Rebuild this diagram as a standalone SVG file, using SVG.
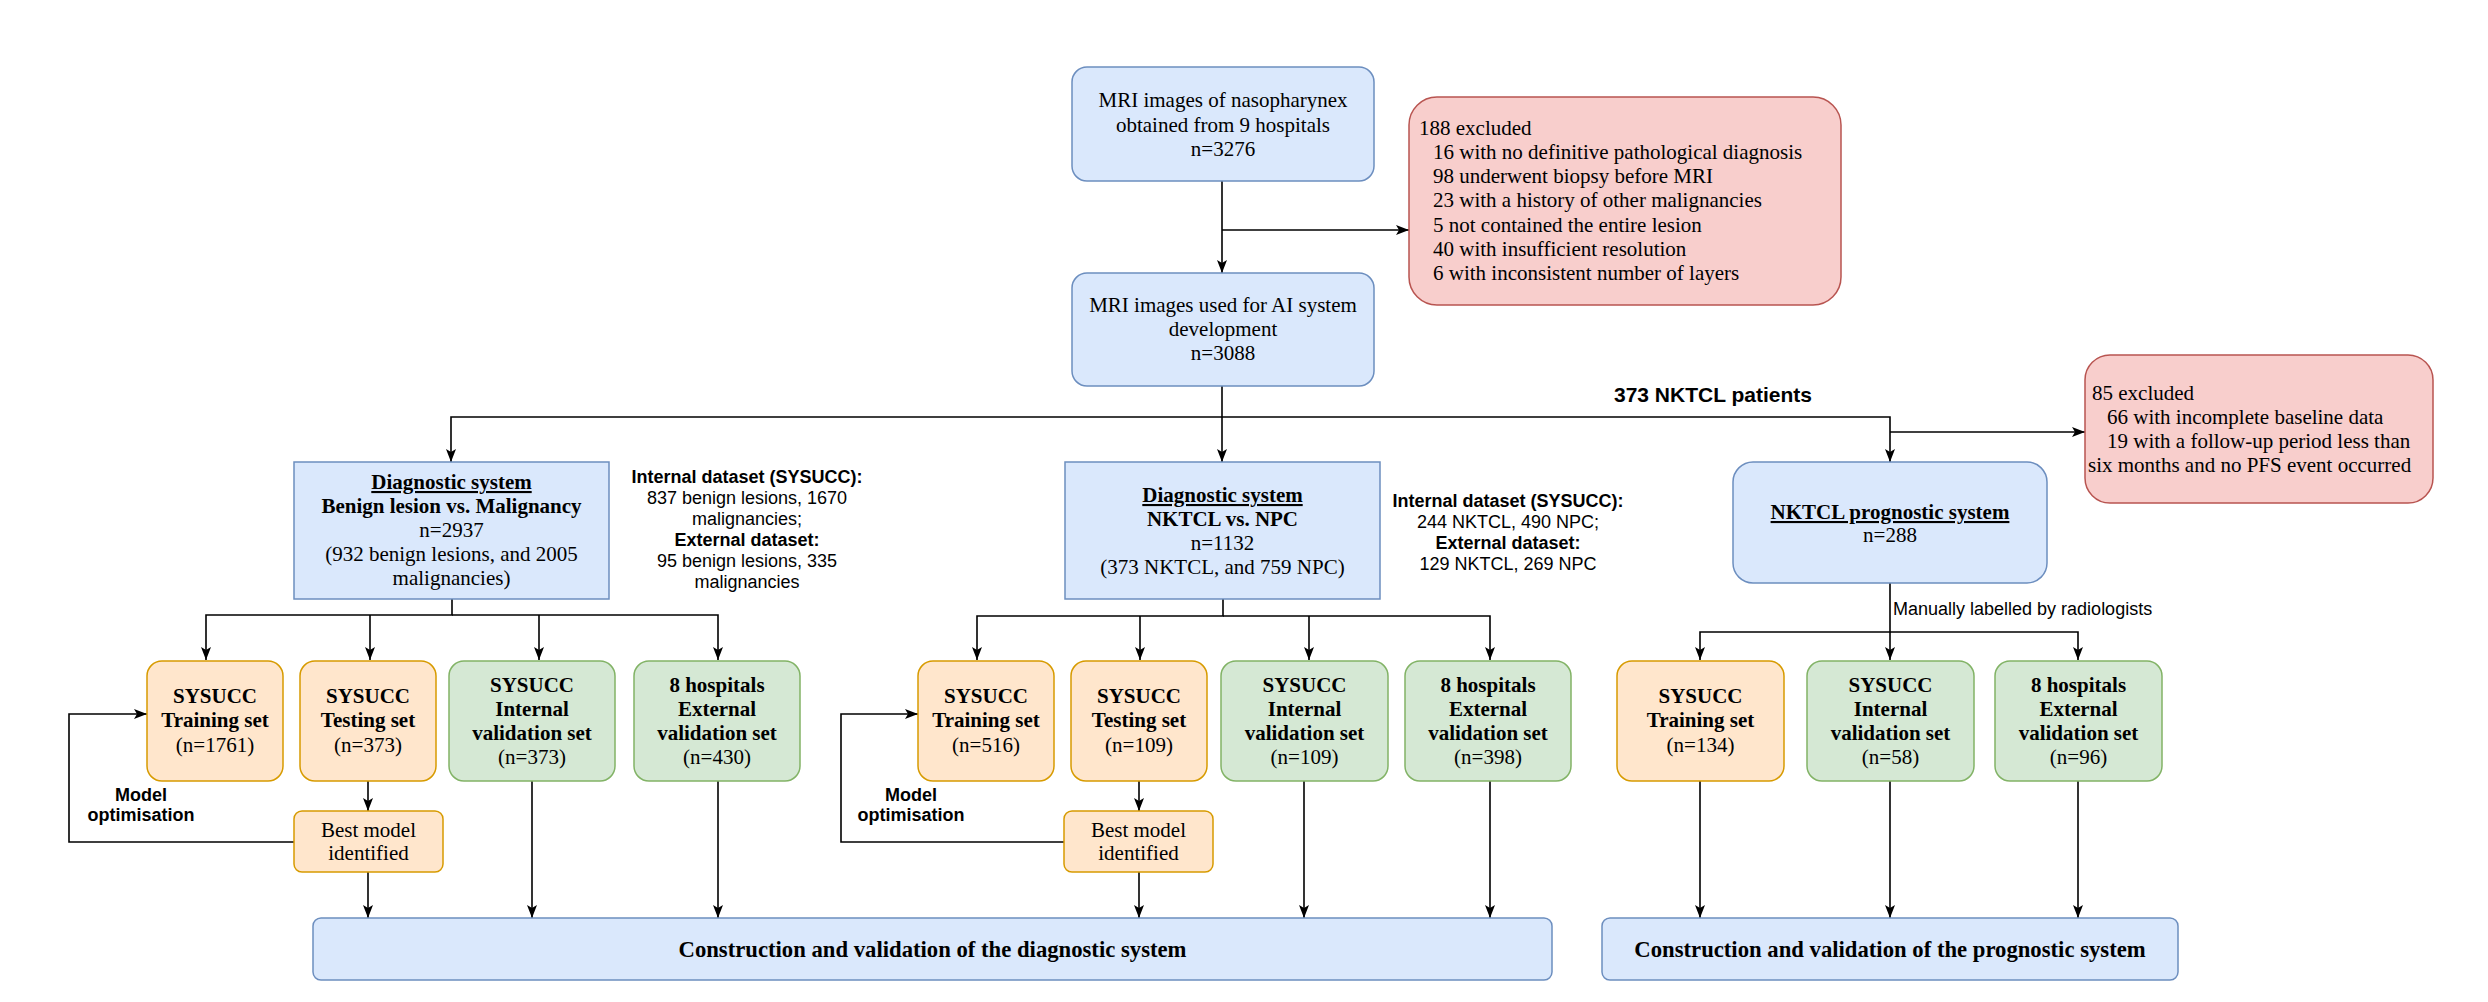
<svg xmlns="http://www.w3.org/2000/svg" width="2488" height="1002" viewBox="0 0 2488 1002">
<defs>
<style>
.blue{fill:#dae8fc;stroke:#6c8ebf;stroke-width:1.5}
.red{fill:#f8cecc;stroke:#b85450;stroke-width:1.5}
.orange{fill:#ffe6cc;stroke:#d79b00;stroke-width:1.5}
.green{fill:#d5e8d4;stroke:#82b366;stroke-width:1.5}
text{font-family:"Liberation Serif","Times New Roman",serif;font-size:21px;fill:#000}
.c{text-anchor:middle}
.b{font-weight:bold}
.u{text-decoration:underline}
.big{font-size:22.7px}
.s{font-family:"Liberation Sans",Arial,sans-serif;font-size:18px}
.conn path{fill:none;stroke:#000;stroke-width:1.6}
</style>
<marker id="arr" markerUnits="userSpaceOnUse" markerWidth="14" markerHeight="12" refX="13" refY="5" orient="auto">
<path d="M0,0 L13,5 L0,10 L3,5 Z" fill="#000"/>
</marker>
</defs>
<rect width="2488" height="1002" fill="#fff"/>

<g class="conn">
<path d="M1222,181 V273" marker-end="url(#arr)"/>
<path d="M1222,230 H1409" marker-end="url(#arr)"/>
<path d="M1222,386 V462" marker-end="url(#arr)"/>
<path d="M1222,417 H451 V462" marker-end="url(#arr)"/>
<path d="M1222,417 H1890 V462" marker-end="url(#arr)"/>
<path d="M1890,432 H2085" marker-end="url(#arr)"/>
<path d="M452,599 V615 H206 V660" marker-end="url(#arr)"/>
<path d="M370,615 V660" marker-end="url(#arr)"/>
<path d="M539,615 V660" marker-end="url(#arr)"/>
<path d="M452,615 H718 V660" marker-end="url(#arr)"/>
<path d="M1223,599 V616 H977 V660" marker-end="url(#arr)"/>
<path d="M1140,616 V660" marker-end="url(#arr)"/>
<path d="M1309,616 V660" marker-end="url(#arr)"/>
<path d="M1223,616 H1490 V660" marker-end="url(#arr)"/>
<path d="M1890,583 V632 H1700 V660" marker-end="url(#arr)"/>
<path d="M1890,632 V660" marker-end="url(#arr)"/>
<path d="M1890,632 H2078 V660" marker-end="url(#arr)"/>
<path d="M368,781 V811" marker-end="url(#arr)"/>
<path d="M1139,781 V811" marker-end="url(#arr)"/>
<path d="M294,842 H69 V714 H147" marker-end="url(#arr)"/>
<path d="M1064,842 H841 V714 H918" marker-end="url(#arr)"/>
<path d="M368,872 V918" marker-end="url(#arr)"/>
<path d="M532,781 V918" marker-end="url(#arr)"/>
<path d="M718,781 V918" marker-end="url(#arr)"/>
<path d="M1139,872 V918" marker-end="url(#arr)"/>
<path d="M1304,781 V918" marker-end="url(#arr)"/>
<path d="M1490,781 V918" marker-end="url(#arr)"/>
<path d="M1700,781 V918" marker-end="url(#arr)"/>
<path d="M1890,781 V918" marker-end="url(#arr)"/>
<path d="M2078,781 V918" marker-end="url(#arr)"/>
</g>

<g id="conn-labels">
<text class="s b c" x="1713" y="402" style="font-size:21px">373 NKTCL patients</text>
<text class="s" x="1893" y="615">Manually labelled by radiologists</text>
<text class="s b c" x="141" y="801">Model</text>
<text class="s b c" x="141" y="821">optimisation</text>
<text class="s b c" x="911" y="801">Model</text>
<text class="s b c" x="911" y="821">optimisation</text>
</g>

<g id="mri-all">
<rect class="blue" x="1072" y="67" width="302" height="114" rx="15"/>
<text class="c" x="1223" y="107">MRI images of nasopharynex</text>
<text class="c" x="1223" y="132">obtained from 9 hospitals</text>
<text class="c" x="1223" y="156">n=3276</text>
</g>

<g id="excluded-188">
<rect class="red" x="1409" y="97" width="432" height="208" rx="28"/>
<text x="1419" y="135">188 excluded</text>
<text x="1433" y="159">16 with no definitive pathological diagnosis</text>
<text x="1433" y="183">98 underwent biopsy before MRI</text>
<text x="1433" y="207">23 with a history of other malignancies</text>
<text x="1433" y="232">5 not contained the entire lesion</text>
<text x="1433" y="256">40 with insufficient resolution</text>
<text x="1433" y="280">6 with inconsistent number of layers</text>
</g>

<g id="mri-used">
<rect class="blue" x="1072" y="273" width="302" height="113" rx="15"/>
<text class="c" x="1223" y="312">MRI images used for AI system</text>
<text class="c" x="1223" y="336">development</text>
<text class="c" x="1223" y="360">n=3088</text>
</g>

<g id="diag-benign">
<rect class="blue" x="294" y="462" width="315" height="137"/>
<text class="c b u" x="451.5" y="489">Diagnostic system</text>
<text class="c b" x="451.5" y="513">Benign lesion vs. Malignancy</text>
<text class="c" x="451.5" y="537">n=2937</text>
<text class="c" x="451.5" y="561">(932 benign lesions, and 2005</text>
<text class="c" x="451.5" y="585">malignancies)</text>
</g>

<g id="note-benign">
<text class="s b c" x="747" y="483">Internal dataset (SYSUCC):</text>
<text class="s c" x="747" y="504">837 benign lesions, 1670</text>
<text class="s c" x="747" y="525">malignancies;</text>
<text class="s b c" x="747" y="546">External dataset:</text>
<text class="s c" x="747" y="567">95 benign lesions, 335</text>
<text class="s c" x="747" y="588">malignancies</text>
</g>

<g id="diag-nktcl">
<rect class="blue" x="1065" y="462" width="315" height="137"/>
<text class="c b u" x="1222.5" y="502">Diagnostic system</text>
<text class="c b" x="1222.5" y="526">NKTCL vs. NPC</text>
<text class="c" x="1222.5" y="550">n=1132</text>
<text class="c" x="1222.5" y="574">(373 NKTCL, and 759 NPC)</text>
</g>

<g id="note-nktcl">
<text class="s b c" x="1508" y="507">Internal dataset (SYSUCC):</text>
<text class="s c" x="1508" y="528">244 NKTCL, 490 NPC;</text>
<text class="s b c" x="1508" y="549">External dataset:</text>
<text class="s c" x="1508" y="570">129 NKTCL, 269 NPC</text>
</g>

<g id="prog-system">
<rect class="blue" x="1733" y="462" width="314" height="121" rx="20"/>
<text class="c b u" x="1890" y="519">NKTCL prognostic system</text>
<text class="c" x="1890" y="542">n=288</text>
</g>

<g id="excluded-85">
<rect class="red" x="2085" y="355" width="348" height="148" rx="25"/>
<text x="2092" y="400">85 excluded</text>
<text x="2107" y="424">66 with incomplete baseline data</text>
<text x="2107" y="448">19 with a follow-up period less than</text>
<text x="2088" y="472">six months and no PFS event occurred</text>
</g>

<g id="b-train">
<rect class="orange" x="147" y="661" width="136" height="120" rx="15"/>
<text class="c b" x="215" y="703">SYSUCC</text>
<text class="c b" x="215" y="727">Training set</text>
<text class="c" x="215" y="752">(n=1761)</text>
</g>
<g id="b-test">
<rect class="orange" x="300" y="661" width="136" height="120" rx="15"/>
<text class="c b" x="368" y="703">SYSUCC</text>
<text class="c b" x="368" y="727">Testing set</text>
<text class="c" x="368" y="752">(n=373)</text>
</g>
<g id="b-internal">
<rect class="green" x="449" y="661" width="166" height="120" rx="15"/>
<text class="c b" x="532" y="692">SYSUCC</text>
<text class="c b" x="532" y="716">Internal</text>
<text class="c b" x="532" y="740">validation set</text>
<text class="c" x="532" y="764">(n=373)</text>
</g>
<g id="b-external">
<rect class="green" x="634" y="661" width="166" height="120" rx="15"/>
<text class="c b" x="717" y="692">8 hospitals</text>
<text class="c b" x="717" y="716">External</text>
<text class="c b" x="717" y="740">validation set</text>
<text class="c" x="717" y="764">(n=430)</text>
</g>
<g id="b-best">
<rect class="orange" x="294" y="811" width="149" height="61" rx="8"/>
<text class="c" x="368.5" y="837">Best model</text>
<text class="c" x="368.5" y="860">identified</text>
</g>

<g id="n-train">
<rect class="orange" x="918" y="661" width="136" height="120" rx="15"/>
<text class="c b" x="986" y="703">SYSUCC</text>
<text class="c b" x="986" y="727">Training set</text>
<text class="c" x="986" y="752">(n=516)</text>
</g>
<g id="n-test">
<rect class="orange" x="1071" y="661" width="136" height="120" rx="15"/>
<text class="c b" x="1139" y="703">SYSUCC</text>
<text class="c b" x="1139" y="727">Testing set</text>
<text class="c" x="1139" y="752">(n=109)</text>
</g>
<g id="n-internal">
<rect class="green" x="1221" y="661" width="167" height="120" rx="15"/>
<text class="c b" x="1304.5" y="692">SYSUCC</text>
<text class="c b" x="1304.5" y="716">Internal</text>
<text class="c b" x="1304.5" y="740">validation set</text>
<text class="c" x="1304.5" y="764">(n=109)</text>
</g>
<g id="n-external">
<rect class="green" x="1405" y="661" width="166" height="120" rx="15"/>
<text class="c b" x="1488" y="692">8 hospitals</text>
<text class="c b" x="1488" y="716">External</text>
<text class="c b" x="1488" y="740">validation set</text>
<text class="c" x="1488" y="764">(n=398)</text>
</g>
<g id="n-best">
<rect class="orange" x="1064" y="811" width="149" height="61" rx="8"/>
<text class="c" x="1138.5" y="837">Best model</text>
<text class="c" x="1138.5" y="860">identified</text>
</g>

<g id="p-train">
<rect class="orange" x="1617" y="661" width="167" height="120" rx="15"/>
<text class="c b" x="1700.5" y="703">SYSUCC</text>
<text class="c b" x="1700.5" y="727">Training set</text>
<text class="c" x="1700.5" y="752">(n=134)</text>
</g>
<g id="p-internal">
<rect class="green" x="1807" y="661" width="167" height="120" rx="15"/>
<text class="c b" x="1890.5" y="692">SYSUCC</text>
<text class="c b" x="1890.5" y="716">Internal</text>
<text class="c b" x="1890.5" y="740">validation set</text>
<text class="c" x="1890.5" y="764">(n=58)</text>
</g>
<g id="p-external">
<rect class="green" x="1995" y="661" width="167" height="120" rx="15"/>
<text class="c b" x="2078.5" y="692">8 hospitals</text>
<text class="c b" x="2078.5" y="716">External</text>
<text class="c b" x="2078.5" y="740">validation set</text>
<text class="c" x="2078.5" y="764">(n=96)</text>
</g>

<g id="diag-construct">
<rect class="blue" x="313" y="918" width="1239" height="62" rx="8"/>
<text class="c b big" x="932.5" y="957">Construction and validation of the diagnostic system</text>
</g>
<g id="prog-construct">
<rect class="blue" x="1602" y="918" width="576" height="62" rx="8"/>
<text class="c b big" x="1890" y="957">Construction and validation of the prognostic system</text>
</g>
</svg>
